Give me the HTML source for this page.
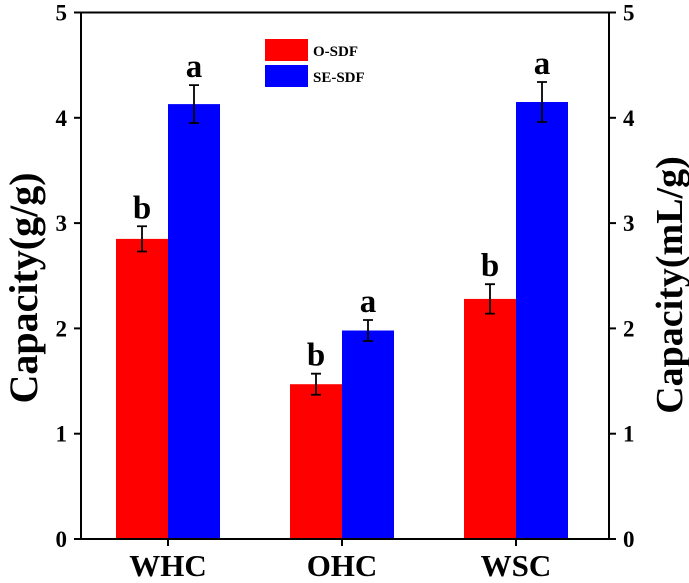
<!DOCTYPE html>
<html><head><meta charset="utf-8"><style>body{margin:0;background:#fff}svg{display:block}text{font-family:"Liberation Serif",serif;font-weight:bold}</style></head>
<body>
<svg id="chart" width="689" height="583" viewBox="0 0 689 583" xmlns="http://www.w3.org/2000/svg"></svg>
<script>
const categories = ["WHC", "OHC", "WSC"];
const seriesNames = ["O-SDF", "SE-SDF"];
const oValues = [2.85, 1.47, 2.28];
const seValues = [4.13, 1.98, 4.15];
const oErrors = [0.12, 0.10, 0.14];
const seErrors = [0.18, 0.10, 0.19];
const oLetters = ["b", "b", "b"];
const seLetters = ["a", "a", "a"];
const yTicks = [0, 1, 2, 3, 4, 5];

const svg = document.getElementById('chart');
const NS = 'http://www.w3.org/2000/svg';
const L = 81, R = 609, T = 12.5, B = 539;
const y = v => B - (v / 5) * (B - T);
const cx = i => 168 + i * 174;
const bw = 52;
function mk(tag, attrs, parent) { const e = document.createElementNS(NS, tag); for (const k in attrs) e.setAttribute(k, attrs[k]); (parent || svg).appendChild(e); return e; }

const series = [[oValues, oErrors, oLetters, '#ff0000', -1], [seValues, seErrors, seLetters, '#0000ff', 0]];
series.forEach((s, si) => {
  s[0].forEach((v, i) => {
    const x = cx(i) + s[4] * bw;
    const r = mk('rect', {x: x, y: y(v), width: bw, height: B - y(v), fill: s[3]});
    
    
    const m = x + bw / 2, e = s[1][i];
    const g = mk('path', {d: `M${m},${y(v + e)}V${y(v - e)}M${m - 5},${y(v + e)}H${m + 5}M${m - 5},${y(v - e)}H${m + 5}`, stroke: '#000', 'stroke-width': 1.8, fill: 'none'});
    
    
    const t = mk('text', {x: m, y: y(v + e) - 8, 'text-anchor': 'middle', 'font-size': 33});
    t.textContent = s[2][i];
    
    
  });
});

const frame = mk('rect', {x: L, y: T, width: R - L, height: B - T, fill: 'none', stroke: '#000', 'stroke-width': 2});



yTicks.forEach(v => {
  mk('line', {x1: L - 7, x2: L, y1: y(v), y2: y(v), stroke: '#000', 'stroke-width': 2});
  mk('line', {x1: R, x2: R + 7, y1: y(v), y2: y(v), stroke: '#000', 'stroke-width': 2});
  const a = mk('text', {x: L - 14, y: y(v) + 8, 'text-anchor': 'end', 'font-size': 23});
  a.textContent = v;
  
  
  const b = mk('text', {x: R + 14, y: y(v) + 8, 'text-anchor': 'start', 'font-size': 23});
  b.textContent = v;
  
  
});
categories.forEach((c, i) => {
  mk('line', {x1: cx(i), x2: cx(i), y1: B, y2: B + 7, stroke: '#000', 'stroke-width': 2});
  const t = mk('text', {x: cx(i), y: 576, 'text-anchor': 'middle', 'font-size': 31});
  t.textContent = c;
  
  
});

const yl = mk('text', {transform: 'translate(37,288) rotate(-90)', 'text-anchor': 'middle', 'font-size': 40});
yl.textContent = 'Capacity(g/g)';


const yr = mk('text', {transform: 'translate(682,285) rotate(-90)', 'text-anchor': 'middle', 'font-size': 38});
yr.textContent = 'Capacity(mL/g)';



[['#ff0000', 39], ['#0000ff', 65]].forEach((l, i) => {
  const s = mk('rect', {x: 265, y: l[1], width: 43, height: 22, fill: l[0]});
  
  
  const t = mk('text', {x: 313, y: l[1] + 17, 'font-size': 15});
  t.textContent = seriesNames[i];
  
  
});
</script>
</body></html>
